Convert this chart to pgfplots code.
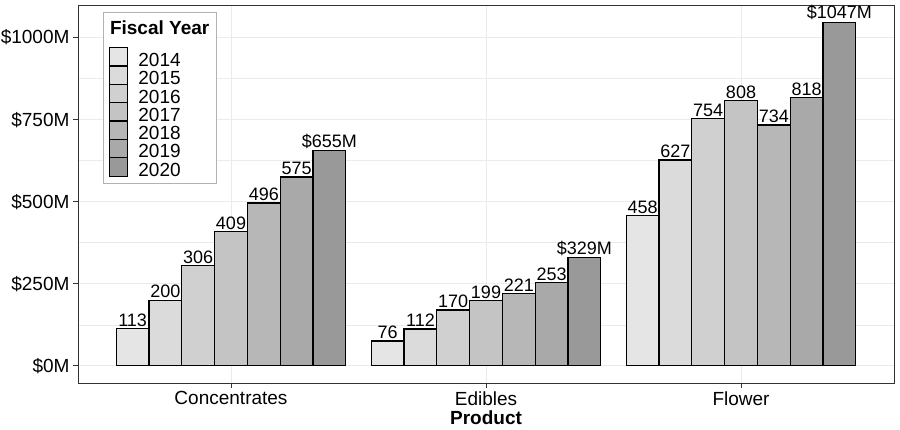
\documentclass[border=0pt]{standalone}
\usepackage{fontspec}
\setmainfont{Liberation Sans}
\usepackage{pgfplots}
\pgfplotsset{compat=1.18}

\definecolor{c14}{RGB}{229,229,229}
\definecolor{c15}{RGB}{219,219,219}
\definecolor{c16}{RGB}{208,208,208}
\definecolor{c17}{RGB}{196,196,196}
\definecolor{c18}{RGB}{183,183,183}
\definecolor{c19}{RGB}{169,169,169}
\definecolor{c20}{RGB}{153,153,153}
\definecolor{gridc}{RGB}{235,235,235}
\definecolor{framec}{RGB}{51,51,51}

\begin{document}
\begin{tikzpicture}
\begin{axis}[
    scale only axis,
    width=816pt, height=378pt,
    xmin=0.4, xmax=3.6,
    ymin=-52.35, ymax=1099.35,
    xtick={1,2,3},
    xticklabels={Concentrates,Edibles,Flower},
    ytick={0,250,500,750,1000},
    yticklabels={\$0M,\$250M,\$500M,\$750M,\$1000M},
    minor ytick={125,375,625,875},
    grid=both,
    major grid style={gridc, line width=1pt},
    minor grid style={gridc, line width=0.5pt},
    axis line style={framec, line width=0.8pt},
    tick style={framec, line width=0.8pt},
    major tick length=5pt, minor tick length=0pt,
    tick align=outside, tick pos=left,
    ticklabel style={font=\fontsize{19}{19}\selectfont, text=black},
    xlabel={Product},
    xlabel style={font=\fontsize{19}{19}\selectfont\bfseries, yshift=2pt},
    /pgf/number format/1000 sep={},
    /pgf/number format/assume math mode=true,
    ybar, bar width=0.128571,
    nodes near coords,
    nodes near coords style={font=\fontsize{18}{18}\selectfont, anchor=south, inner sep=1.5pt, text=black},
    legend image code/.code={\draw[#1, line width=1.2pt] (0pt,-4.6pt) rectangle (18pt,14pt);},
    legend style={draw=none, fill=none, at={(0.038,0.889)}, anchor=north west,
        row sep=-5.6pt, inner sep=0pt,
        nodes={inner sep=0pt, text height=14pt, text depth=4.6pt, font=\fontsize{19}{19}\selectfont},
        /tikz/every odd column/.append style={column sep=10pt}},
    legend cell align=left,
]
\draw[gray!60, fill=white, line width=0.8pt] (rel axis cs:0.0306,0.529) rectangle (rel axis cs:0.170,0.981);
\node[anchor=base west, font=\fontsize{19}{19}\selectfont\bfseries, inner sep=0pt] at (rel axis cs:0.039,0.921) {Fiscal Year};

\addplot[fill=c14, draw=black, line width=1.3pt, bar shift=-0.385714] coordinates {(1,113) (2,76) (3,458)};
\addlegendentry{2014}
\addplot[fill=c15, draw=black, line width=1.3pt, bar shift=-0.257143] coordinates {(1,200) (2,112) (3,627)};
\addlegendentry{2015}
\addplot[fill=c16, draw=black, line width=1.3pt, bar shift=-0.128571] coordinates {(1,306) (2,170) (3,754)};
\addlegendentry{2016}
\addplot[fill=c17, draw=black, line width=1.3pt, bar shift=0] coordinates {(1,409) (2,199) (3,808)};
\addlegendentry{2017}
\addplot[fill=c18, draw=black, line width=1.3pt, bar shift=0.128571] coordinates {(1,496) (2,221) (3,734)};
\addlegendentry{2018}
\addplot[fill=c19, draw=black, line width=1.3pt, bar shift=0.257143] coordinates {(1,575) (2,253) (3,818)};
\addlegendentry{2019}
\addplot[fill=c20, draw=black, line width=1.3pt, bar shift=0.385714,
    nodes near coords={\$\pgfmathprintnumber{\pgfplotspointmeta}M}] coordinates {(1,655) (2,329) (3,1047)};
\addlegendentry{2020}
\end{axis}
\pgfresetboundingbox
\path[use as bounding box] ([shift={(-78pt,-46pt)}]current axis.south west) rectangle ([shift={(6pt,5pt)}]current axis.north east);
\end{tikzpicture}
\end{document}
